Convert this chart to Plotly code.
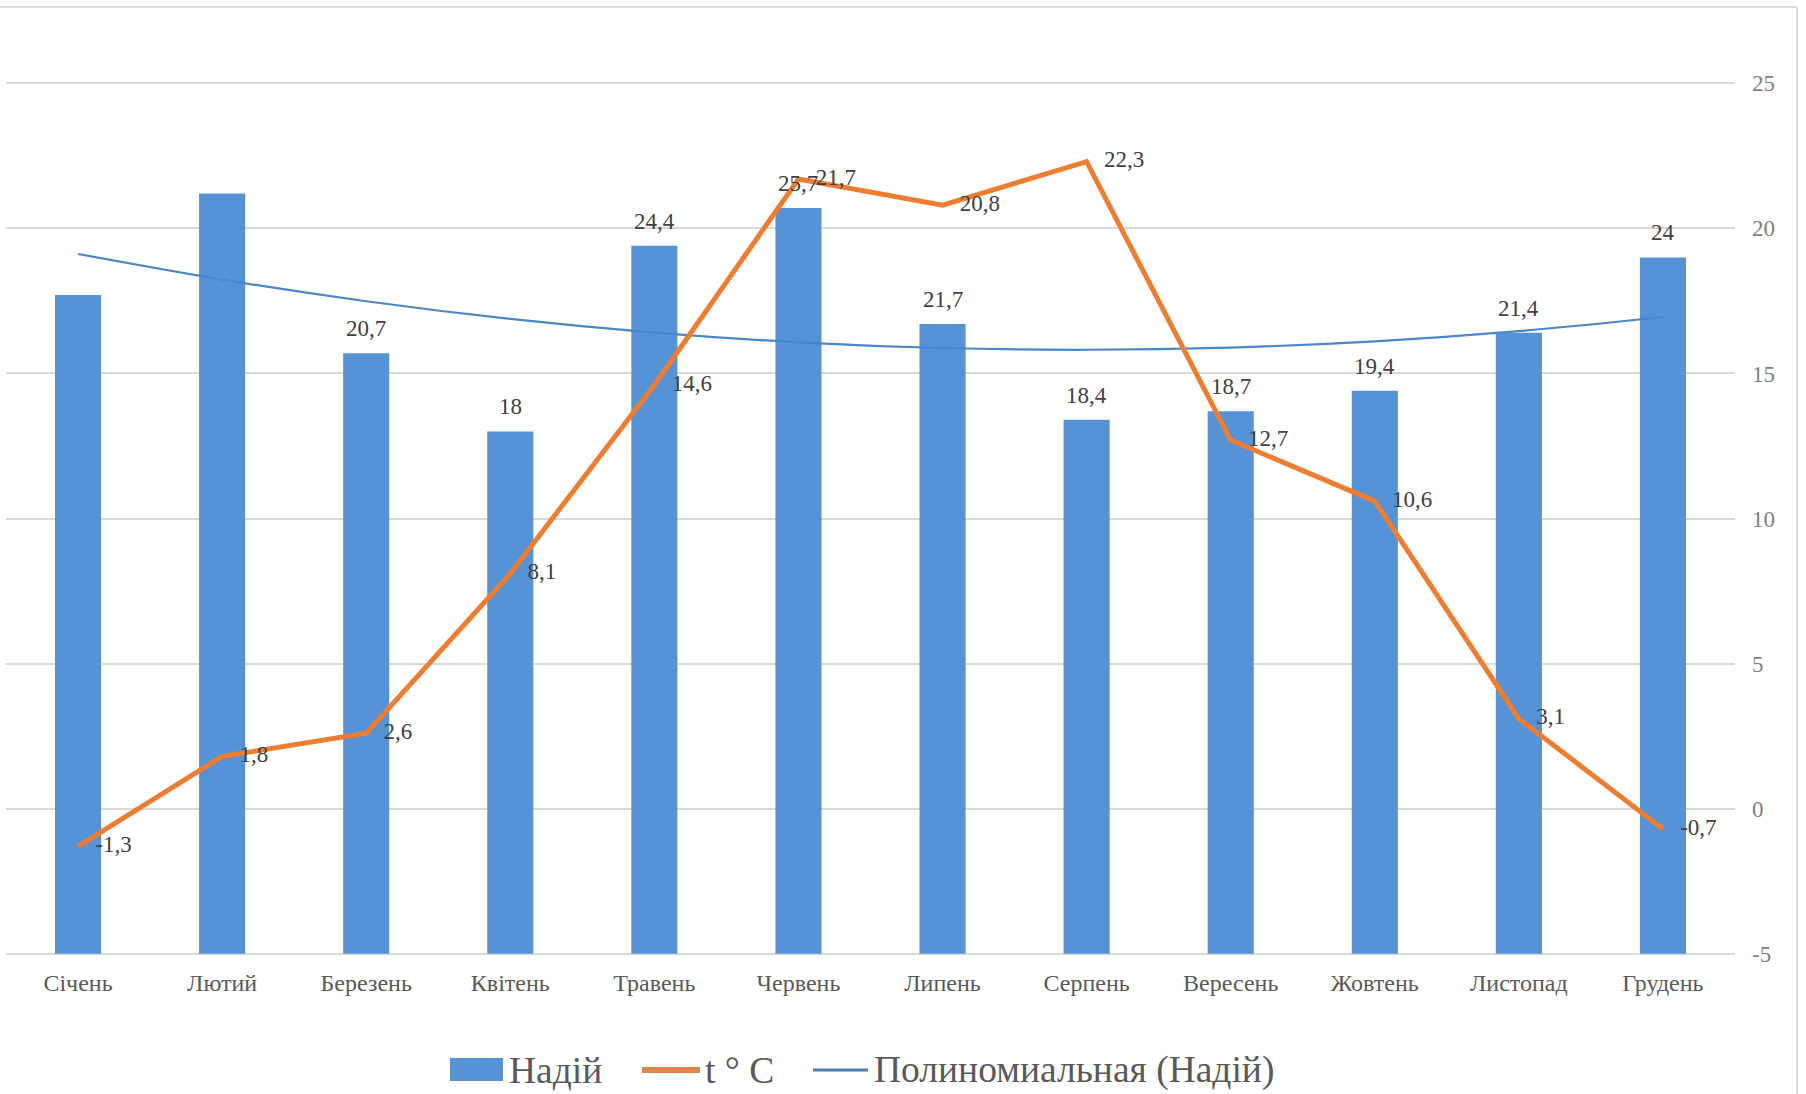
import numpy as np
import plotly.graph_objects as go

# Monthly data
months = ["Січень", "Лютий", "Березень", "Квітень", "Травень", "Червень",
          "Липень", "Серпень", "Вересень", "Жовтень", "Листопад", "Грудень"]
milk_yield = [22.7, 26.2, 20.7, 18.0, 24.4, 25.7, 21.7, 18.4, 18.7, 19.4, 21.4, 24.0]
yield_label_on = [False, False, True, True, True, True, True, True, True, True, True, True]
temperature = [-1.3, 1.8, 2.6, 8.1, 14.6, 21.7, 20.8, 22.3, 12.7, 10.6, 3.1, -0.7]
temp_ticks = [-5, 0, 5, 10, 15, 20, 25]
legend_names = ["Надій", "t ° C", "Полиномиальная (Надій)"]


def fmt(v):
    return f"{v:g}".replace(".", ",")


pos = np.arange(1, len(months) + 1)
# second-order polynomial trend of the yield series
coef = np.polyfit(pos, milk_yield, 2)
trend = np.polyval(coef, pos)

FONT = "Liberation Serif"
BAR = "#5593d6"
ORANGE = "#ed7d31"
TREND = "#4a86c8"
TEXT = "#404040"

# plot-area geometry in pixels (used to place the legend in paper units)
W, H = 1806, 1094
ML, MR, MT, MB = 6, 71, 81, 138
PW, PH = W - ML - MR, H - MT - MB


def px(x):
    return (x - ML) / PW


def py(y):
    return (H - MB - y) / PH


fig = go.Figure()

fig.add_trace(go.Bar(
    x=pos, y=milk_yield, name=legend_names[0],
    marker=dict(color=BAR, line=dict(width=0)),
    yaxis="y", showlegend=False,
))

fig.add_trace(go.Scatter(
    x=pos, y=trend, name=legend_names[2],
    mode="lines", line=dict(color=TREND, width=2.2, shape="spline"),
    yaxis="y", showlegend=False,
))

fig.add_trace(go.Scatter(
    x=pos, y=temperature, name=legend_names[1],
    mode="lines+markers+text", line=dict(color=ORANGE, width=5),
    marker=dict(size=26, color="rgba(0,0,0,0)"),
    text=[fmt(v) for v in temperature], textposition="middle right",
    textfont=dict(family=FONT, size=23, color=TEXT),
    cliponaxis=False,
    yaxis="y2", showlegend=False,
))

annotations = []
# value labels above the bars
for xv, v, on in zip(pos, milk_yield, yield_label_on):
    if on:
        annotations.append(dict(
            x=xv, y=v, xref="x", yref="y", text=fmt(v), showarrow=False,
            yanchor="bottom", yshift=10,
            font=dict(family=FONT, size=23, color=TEXT),
        ))

# legend row
LEG_Y = 1070
legend_text_x = [507, 703, 872]
for name, lx in zip(legend_names, legend_text_x):
    annotations.append(dict(
        x=px(lx), y=py(LEG_Y), xref="paper", yref="paper", text=name,
        showarrow=False, xanchor="left", yanchor="middle",
        font=dict(family=FONT, size=37.5, color="#595959"),
    ))

shapes = [
    # chart frame edges
    dict(type="line", xref="paper", yref="paper", x0=px(-10), x1=px(1797),
         y0=py(7), y1=py(7), line=dict(color="#dcdcdc", width=2)),
    dict(type="line", xref="paper", yref="paper", x0=px(1797), x1=px(1797),
         y0=py(7), y1=py(1100), line=dict(color="#dcdcdc", width=2)),
    # legend keys
    dict(type="rect", xref="paper", yref="paper", x0=px(450), x1=px(503),
         y0=py(1058), y1=py(1081), fillcolor=BAR, line=dict(width=0)),
    dict(type="line", xref="paper", yref="paper", x0=px(642), x1=px(700),
         y0=py(LEG_Y), y1=py(LEG_Y), line=dict(color="#e0844a", width=6)),
    dict(type="line", xref="paper", yref="paper", x0=px(813), x1=px(868),
         y0=py(LEG_Y), y1=py(LEG_Y), line=dict(color="#4f7fb5", width=3)),
]

# small padding so the outermost grid lines (-5 and 25) are kept
EPS = 0.08
fig.update_layout(
    width=W, height=H,
    margin=dict(l=ML, r=MR, t=MT, b=MB, autoexpand=False),
    paper_bgcolor="white", plot_bgcolor="white",
    font=dict(family=FONT, color="#595959"),
    bargap=0.68,
    showlegend=False,
    xaxis=dict(
        tickmode="array", tickvals=pos, ticktext=months,
        range=[0.5, len(months) + 0.5],
        showgrid=False, zeroline=False, showline=False, ticks="",
        tickfont=dict(family=FONT, size=24, color="#595959"),
        ticklabelstandoff=10,
    ),
    yaxis=dict(
        range=[0 - EPS, 30 + EPS], visible=False, showgrid=False, zeroline=False,
    ),
    yaxis2=dict(
        range=[-5 - EPS, 25 + EPS], overlaying="y", side="right",
        tickmode="array", tickvals=temp_ticks, ticktext=[str(t) for t in temp_ticks],
        showgrid=True, gridcolor="#d9d9d9", gridwidth=1.5,
        zeroline=False, showline=False, ticks="",
        tickfont=dict(family=FONT, size=23, color="#7f7f7f"),
        ticklabelstandoff=16,
    ),
    annotations=annotations,
    shapes=shapes,
)

fig.write_html("out.html")
